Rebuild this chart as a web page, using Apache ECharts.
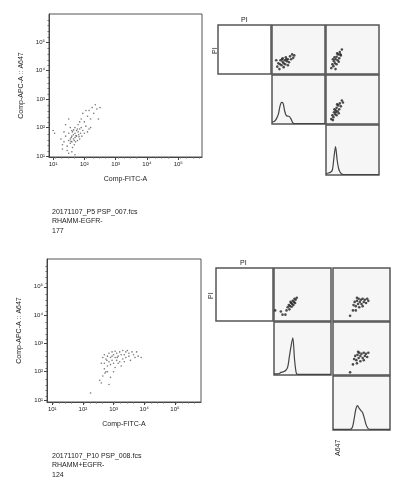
<!DOCTYPE html>
<html><head><meta charset="utf-8">
<script src="https://cdn.jsdelivr.net/npm/echarts@6/dist/echarts.min.js"></script>
<style>html,body{margin:0;background:#fff}#c{width:415px;height:485px}</style>
</head><body><div id="c"></div>
<script>
// exponents (log10) of events
const tickExps = [1, 2, 3, 4, 5];
const topScatter = [[1.0,1.9],[1.05,1.8],[1.3,1.4],[1.3,1.25],[1.35,1.5],[1.4,1.7],[1.45,1.35],[1.5,1.55],[1.5,1.8],[1.55,1.6],[1.55,1.45],[1.6,1.9],[1.6,1.7],[1.6,1.5],[1.62,1.3],[1.65,1.75],[1.65,1.6],[1.7,2.0],[1.7,1.8],[1.7,1.65],[1.72,1.5],[1.75,1.9],[1.75,1.7],[1.78,1.55],[1.8,2.1],[1.8,1.85],[1.82,1.75],[1.85,1.95],[1.85,1.6],[1.88,1.8],[1.9,2.3],[1.9,2.0],[1.92,1.7],[1.95,2.5],[1.95,1.9],[2.0,2.2],[2.0,1.8],[2.05,2.05],[2.1,2.4],[2.1,1.85],[2.15,2.6],[2.2,2.3],[2.2,2.0],[2.25,2.7],[2.3,2.5],[2.35,2.8],[2.4,2.65],[2.45,2.3],[2.5,2.7],[1.4,2.1],[1.5,2.3],[1.55,2.0],[1.45,1.2],[1.5,1.1],[1.6,1.15],[1.7,1.05],[1.68,1.4],[1.58,1.65],[1.62,1.85],[1.78,1.95],[1.68,1.55],[1.73,1.72],[1.57,1.52],[1.83,1.68],[1.66,1.92],[2.05,2.6],[2.15,1.95],[1.85,2.2],[1.25,1.6],[1.35,1.85]];
const botScatter = [[2.25,1.25],[2.6,1.6],[2.65,1.85],[2.7,2.1],[2.7,2.3],[2.75,2.0],[2.75,2.45],[2.8,2.55],[2.8,2.2],[2.85,2.65],[2.85,2.35],[2.9,1.8],[2.9,2.5],[2.95,2.4],[2.95,2.7],[3.0,2.6],[3.0,2.3],[3.05,2.5],[3.05,2.15],[3.1,2.65],[3.1,2.4],[3.15,2.55],[3.2,2.7],[3.2,2.35],[3.25,2.6],[3.3,2.45],[3.3,2.75],[3.35,2.6],[3.4,2.5],[3.4,2.7],[3.45,2.75],[3.5,2.55],[3.5,2.65],[3.55,2.4],[3.6,2.7],[3.65,2.6],[3.7,2.5],[3.75,2.7],[3.8,2.55],[3.9,2.5],[2.65,2.5],[2.7,2.6],[2.6,2.3],[2.55,1.7],[2.8,2.0],[3.0,2.0],[2.9,2.25],[3.15,2.3],[3.25,2.2],[2.95,2.55],[2.72,1.95],[2.85,1.55],[3.05,2.72],[3.35,2.35],[2.78,2.4],[3.12,2.5]];
// mini matrix cells, fractional coordinates inside each cell
const topR1C2 = [[0.1,0.15],[0.12,0.22],[0.15,0.2],[0.16,0.28],[0.18,0.18],[0.2,0.25],[0.2,0.32],[0.22,0.22],[0.24,0.28],[0.25,0.2],[0.26,0.34],[0.28,0.26],[0.3,0.3],[0.32,0.24],[0.34,0.36],[0.36,0.3],[0.38,0.4],[0.4,0.33],[0.42,0.38],[0.14,0.1],[0.22,0.14],[0.3,0.18],[0.08,0.28],[0.19,0.3],[0.27,0.3]];
const topR1C3 = [[0.1,0.12],[0.12,0.2],[0.14,0.16],[0.15,0.26],[0.17,0.22],[0.18,0.3],[0.2,0.2],[0.2,0.35],[0.22,0.28],[0.23,0.4],[0.25,0.32],[0.26,0.45],[0.28,0.38],[0.3,0.5],[0.18,0.1],[0.13,0.3],[0.24,0.25],[0.16,0.34],[0.21,0.42],[0.27,0.4]];
const topR2C3 = [[0.1,0.1],[0.12,0.18],[0.14,0.14],[0.15,0.24],[0.17,0.2],[0.18,0.28],[0.2,0.18],[0.2,0.33],[0.22,0.26],[0.23,0.38],[0.25,0.3],[0.26,0.42],[0.28,0.36],[0.3,0.48],[0.32,0.44],[0.16,0.3],[0.21,0.4],[0.13,0.08],[0.24,0.22],[0.19,0.24]];
const topHistX = [0,0.04,0.08,0.12,0.15,0.18,0.21,0.24,0.27,0.3,0.33,0.36,0.39,0.42,1];
const topHistR2 = [0.04,0.05,0.1,0.2,0.36,0.44,0.42,0.26,0.17,0.16,0.15,0.1,0.03,0.01,0.01];
const topHistR3 = [0.02,0.04,0.05,0.1,0.35,0.57,0.3,0.12,0.05,0.02,0.01,0.01,0.01,0.01,0.01];
const botR1C2 = [[0.02,0.2],[0.12,0.18],[0.15,0.12],[0.2,0.12],[0.22,0.2],[0.24,0.26],[0.26,0.3],[0.28,0.28],[0.3,0.34],[0.32,0.32],[0.33,0.38],[0.35,0.36],[0.36,0.42],[0.38,0.4],[0.4,0.44],[0.27,0.22],[0.31,0.27],[0.34,0.3],[0.29,0.36],[0.37,0.34]];
const botR1C3 = [[0.3,0.1],[0.35,0.2],[0.36,0.3],[0.38,0.36],[0.4,0.28],[0.42,0.38],[0.44,0.32],[0.45,0.42],[0.47,0.36],[0.49,0.4],[0.5,0.32],[0.52,0.42],[0.54,0.36],[0.56,0.4],[0.58,0.34],[0.6,0.42],[0.4,0.2],[0.46,0.26],[0.52,0.28],[0.42,0.44],[0.62,0.38]];
const botR2C3 = [[0.3,0.05],[0.35,0.2],[0.37,0.3],[0.39,0.36],[0.41,0.28],[0.43,0.38],[0.45,0.32],[0.46,0.42],[0.48,0.36],[0.5,0.4],[0.52,0.32],[0.54,0.42],[0.56,0.36],[0.58,0.4],[0.6,0.34],[0.62,0.42],[0.42,0.22],[0.48,0.26],[0.54,0.28],[0.44,0.44]];
const botHistX = [0,0.08,0.12,0.16,0.2,0.24,0.27,0.3,0.33,0.36,0.39,0.42,1];
const botHistR2 = [0.02,0.02,0.05,0.06,0.08,0.15,0.35,0.55,0.7,0.3,0.04,0.01,0.01];
const botHistX3 = [0,0.3,0.34,0.37,0.4,0.43,0.46,0.49,0.52,0.55,0.58,0.62,0.66,1];
const botHistR3 = [0.01,0.01,0.05,0.2,0.38,0.45,0.4,0.36,0.32,0.22,0.1,0.02,0.01,0.01];

const grids=[], xA=[], yA=[], series=[];
const sup = {'1':'¹','2':'²','3':'³','4':'⁴','5':'⁵'};
function mainPlot(box, xr, yr, data){
  const gi = grids.length;
  grids.push({left:box[0], top:box[1], width:box[2]-box[0], height:box[3]-box[1], show:true, borderColor:'#555', borderWidth:1, backgroundColor:'#fff'});
  const ax = (r,name,gap,rot) => ({gridIndex:gi, type:'value', min:r[0], max:r[1], interval:1,
    name:name, nameLocation:'middle', nameGap:gap, nameRotate:rot, nameTextStyle:{fontSize:7,color:'#222',fontFamily:'Liberation Sans'},
    axisLine:{show:true,lineStyle:{color:'#444'}}, splitLine:{show:false},
    axisTick:{show:true,length:3,lineStyle:{color:'#444'},customValues:tickExps},
    minorTick:{show:true,splitNumber:5,length:1.5,lineStyle:{color:'#666'}},
    axisLabel:{fontSize:6,color:'#222',margin:4,customValues:tickExps,formatter:v=>'10'+sup[String(Math.round(v))]}});
  xA.push(ax(xr,'Comp-FITC-A',19));
  yA.push(ax(yr,'Comp-APC-A :: A647',24,90));
  series.push({type:'scatter', xAxisIndex:gi, yAxisIndex:gi, data:data, symbolSize:1.6, itemStyle:{color:'#555'}, silent:true});
}
function cell(box, white){
  const gi = grids.length;
  grids.push({left:box[0], top:box[1], width:box[2]-box[0], height:box[3]-box[1], show:true, borderColor:'#555', borderWidth:1.5, backgroundColor: white?'#fff':'#f6f6f6'});
  const a = {gridIndex:gi, type:'value', min:0, max:1, show:false};
  xA.push(a); yA.push(Object.assign({},a));
  return gi;
}
function cellScatter(box,data){const g=cell(box);series.push({type:'scatter',xAxisIndex:g,yAxisIndex:g,data:data,symbolSize:2.6,itemStyle:{color:'#222'},silent:true});}
function cellHist(box,xs,ys){const g=cell(box);series.push({type:'line',xAxisIndex:g,yAxisIndex:g,data:xs.map((x,i)=>[x,ys[i]]),symbol:'none',smooth:0.3,lineStyle:{color:'#444',width:1.2},silent:true});}

mainPlot([49,14,202,157],[0.87,5.76],[0.97,5.98],topScatter);
mainPlot([47,259,201,402],[0.83,5.85],[0.93,5.98],botScatter);
// top matrix
cell([218,25,271,74],true);
cellScatter([272,25,325,74],topR1C2);
cellScatter([326,25,379,74],topR1C3);
cellHist([272,75,325,124],topHistX,topHistR2);
cellScatter([326,75,379,124],topR2C3);
cellHist([326,125,379,175],topHistX,topHistR3);
// bottom matrix
cell([216,268,273,321],true);
cellScatter([274,268,331,321],botR1C2);
cellScatter([333,268,390,321],botR1C3);
cellHist([274,322,331,375],botHistX,botHistR2);
cellScatter([333,322,390,375],botR2C3);
cellHist([333,376,390,430],botHistX3,botHistR3);

const ts = {fontSize:7,fill:'#222',fontFamily:'Liberation Sans'};
const txt = (x,y,t,rot)=>({type:'text',x:x,y:y,rotation:rot||0,style:Object.assign({text:t},ts)});
const graphic = [
  txt(52,209,'20171107_P5 PSP_007.fcs'), txt(52,218,'RHAMM-EGFR-'), txt(52,228,'177'),
  txt(52,453,'20171107_P10 PSP_008.fcs'), txt(52,462,'RHAMM+EGFR-'), txt(52,472,'124'),
  txt(241,17,'PI'), txt(212,54,'PI',Math.PI/2),
  txt(240,260,'PI'), txt(208,299,'PI',Math.PI/2),
  txt(335,456,'A647',Math.PI/2)
];
const chart = echarts.init(document.getElementById('c'),null,{renderer:'canvas'});
chart.setOption({animation:false, grid:grids, xAxis:xA, yAxis:yA, series:series, graphic:graphic});
</script></body></html>
